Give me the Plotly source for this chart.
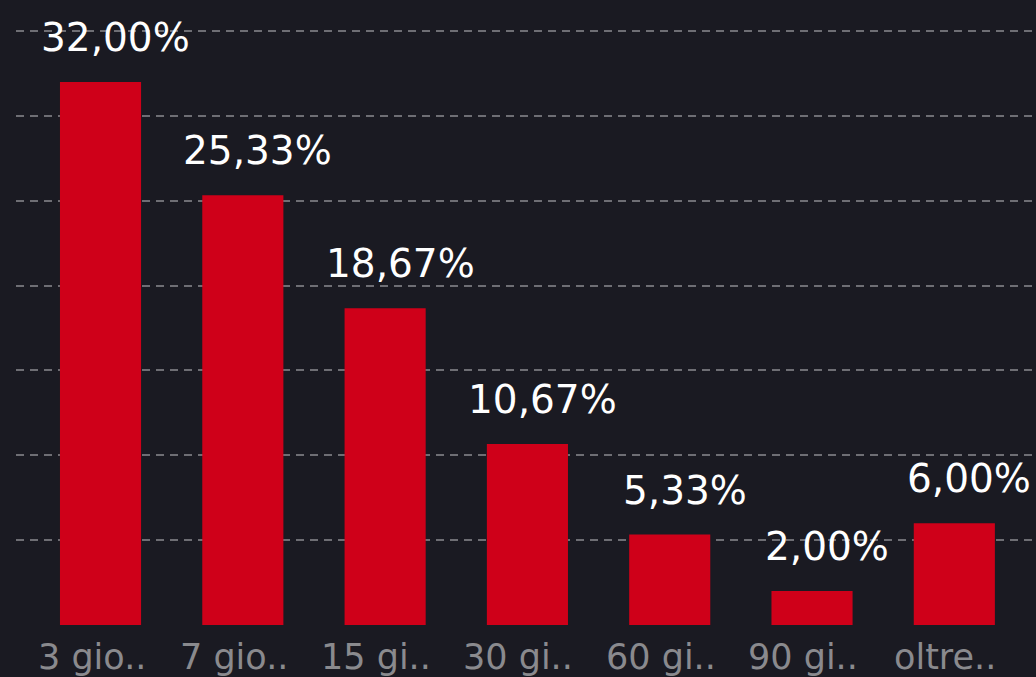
import plotly.graph_objects as go

categories = ['3 gio..', '7 gio..', '15 gi..', '30 gi..', '60 gi..', '90 gi..', 'oltre..']
values = [32.00, 25.33, 18.67, 10.67, 5.33, 2.00, 6.00]
labels = ['32,00%', '25,33%', '18,67%', '10,67%', '5,33%', '2,00%', '6,00%']
grid_ticks = [0, 5, 10, 15, 20, 25, 30, 35]

bg = '#1a1a22'

fig = go.Figure()
fig.add_trace(go.Bar(x=categories, y=values, width=0.57,
                     marker=dict(color='#cf0019', line=dict(width=0)),
                     hoverinfo='skip'))

# value labels above each bar
for cat, val, lab in zip(categories, values, labels):
    fig.add_annotation(x=cat, y=val, text=lab, showarrow=False,
                       yanchor='bottom', yshift=20, xshift=15,
                       font=dict(family='DejaVu Sans', size=39, color='#ffffff'))

# category names under the baseline (slightly left of the bar centre)
for cat in categories:
    fig.add_annotation(x=cat, y=0, text=cat, showarrow=False,
                       yanchor='top', yshift=-10, xshift=-9,
                       font=dict(family='DejaVu Sans', size=35, color='#8a8a8e'))

fig.update_layout(
    width=1036, height=677,
    paper_bgcolor=bg, plot_bgcolor=bg,
    margin=dict(l=16, r=0, t=0, b=52),
    showlegend=False,
    xaxis=dict(range=[-0.594, 6.574], showgrid=False, zeroline=False, showline=False,
               ticks='', showticklabels=False),
    yaxis=dict(range=[0, 36.83], tickvals=grid_ticks, showticklabels=False,
               showgrid=True, gridcolor='#6e6e74', gridwidth=1.5, griddash='8px,6px',
               zeroline=False, showline=False),
)

# drop the default page margin so the chart fills the window
fig.write_html('out.html', config={'displayModeBar': False},
               post_script="document.body.style.margin='0';document.body.style.background='#1a1a22';")
